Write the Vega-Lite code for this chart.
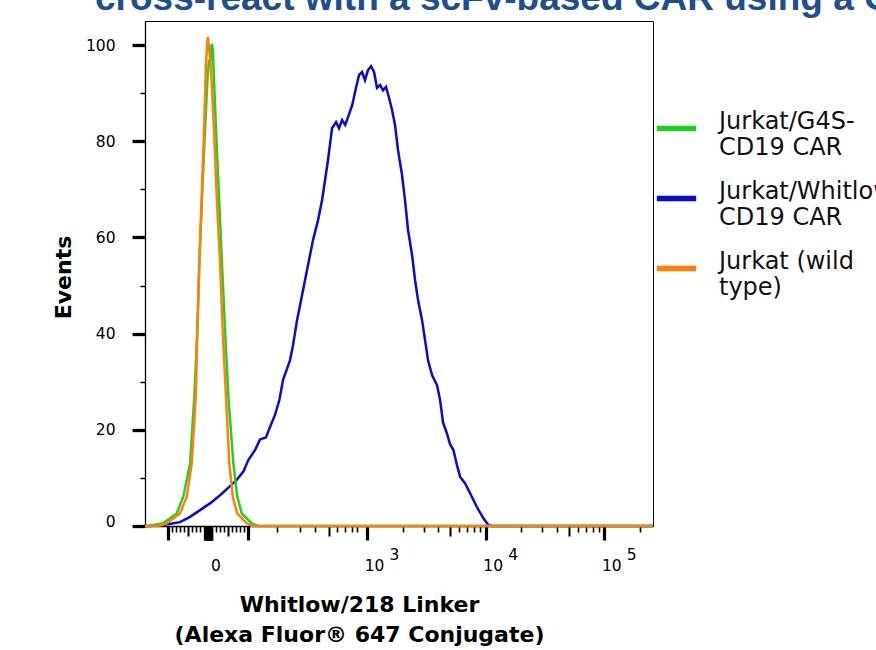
{
  "$schema": "https://vega.github.io/schema/vega-lite/v6.json",
  "width": 508,
  "height": 505,
  "autosize": "none",
  "padding": {"left": 145, "top": 21, "right": 223, "bottom": 124},
  "background": "white",
  "title": {
    "text": "cross-react with a scFv-based CAR using a G4S linker",
    "anchor": "start",
    "frame": "group",
    "orient": "top",
    "font": "Liberation Sans",
    "fontSize": 37,
    "fontWeight": "bold",
    "color": "#1F4E8C",
    "baseline": "alphabetic",
    "dx": -50,
    "offset": -26
  },
  "config": {
    "font": "DejaVu Sans",
    "view": {"stroke": "#000", "strokeWidth": 1}
  },
  "data": {
    "values": [
      {"s": "Jurkat/Whitlow-CD19 CAR", "x": 1.128, "y": 0},
      {"s": "Jurkat/Whitlow-CD19 CAR", "x": 1.170, "y": 0},
      {"s": "Jurkat/Whitlow-CD19 CAR", "x": 1.297, "y": 0.3},
      {"s": "Jurkat/Whitlow-CD19 CAR", "x": 1.356, "y": 0.5},
      {"s": "Jurkat/Whitlow-CD19 CAR", "x": 1.423, "y": 0.8},
      {"s": "Jurkat/Whitlow-CD19 CAR", "x": 1.508, "y": 1.9},
      {"s": "Jurkat/Whitlow-CD19 CAR", "x": 1.592, "y": 3.3},
      {"s": "Jurkat/Whitlow-CD19 CAR", "x": 1.676, "y": 4.7},
      {"s": "Jurkat/Whitlow-CD19 CAR", "x": 1.761, "y": 6.4},
      {"s": "Jurkat/Whitlow-CD19 CAR", "x": 1.845, "y": 8.3},
      {"s": "Jurkat/Whitlow-CD19 CAR", "x": 1.901, "y": 9.6},
      {"s": "Jurkat/Whitlow-CD19 CAR", "x": 1.957, "y": 11.3},
      {"s": "Jurkat/Whitlow-CD19 CAR", "x": 1.999, "y": 13.7},
      {"s": "Jurkat/Whitlow-CD19 CAR", "x": 2.056, "y": 15.8},
      {"s": "Jurkat/Whitlow-CD19 CAR", "x": 2.098, "y": 18.0},
      {"s": "Jurkat/Whitlow-CD19 CAR", "x": 2.148, "y": 18.4},
      {"s": "Jurkat/Whitlow-CD19 CAR", "x": 2.182, "y": 20.6},
      {"s": "Jurkat/Whitlow-CD19 CAR", "x": 2.224, "y": 23.1},
      {"s": "Jurkat/Whitlow-CD19 CAR", "x": 2.261, "y": 26.2},
      {"s": "Jurkat/Whitlow-CD19 CAR", "x": 2.292, "y": 30.4},
      {"s": "Jurkat/Whitlow-CD19 CAR", "x": 2.351, "y": 34.5},
      {"s": "Jurkat/Whitlow-CD19 CAR", "x": 2.376, "y": 37.6},
      {"s": "Jurkat/Whitlow-CD19 CAR", "x": 2.410, "y": 42.8},
      {"s": "Jurkat/Whitlow-CD19 CAR", "x": 2.444, "y": 47.0},
      {"s": "Jurkat/Whitlow-CD19 CAR", "x": 2.477, "y": 51.1},
      {"s": "Jurkat/Whitlow-CD19 CAR", "x": 2.511, "y": 55.3},
      {"s": "Jurkat/Whitlow-CD19 CAR", "x": 2.545, "y": 59.5},
      {"s": "Jurkat/Whitlow-CD19 CAR", "x": 2.587, "y": 63.6},
      {"s": "Jurkat/Whitlow-CD19 CAR", "x": 2.621, "y": 67.8},
      {"s": "Jurkat/Whitlow-CD19 CAR", "x": 2.646, "y": 71.9},
      {"s": "Jurkat/Whitlow-CD19 CAR", "x": 2.671, "y": 76.1},
      {"s": "Jurkat/Whitlow-CD19 CAR", "x": 2.705, "y": 82.7},
      {"s": "Jurkat/Whitlow-CD19 CAR", "x": 2.739, "y": 84.0},
      {"s": "Jurkat/Whitlow-CD19 CAR", "x": 2.764, "y": 82.7},
      {"s": "Jurkat/Whitlow-CD19 CAR", "x": 2.790, "y": 84.4},
      {"s": "Jurkat/Whitlow-CD19 CAR", "x": 2.816, "y": 83.4},
      {"s": "Jurkat/Whitlow-CD19 CAR", "x": 2.841, "y": 85.1},
      {"s": "Jurkat/Whitlow-CD19 CAR", "x": 2.875, "y": 87.5},
      {"s": "Jurkat/Whitlow-CD19 CAR", "x": 2.907, "y": 91.1},
      {"s": "Jurkat/Whitlow-CD19 CAR", "x": 2.933, "y": 93.8},
      {"s": "Jurkat/Whitlow-CD19 CAR", "x": 2.958, "y": 94.4},
      {"s": "Jurkat/Whitlow-CD19 CAR", "x": 2.983, "y": 92.7},
      {"s": "Jurkat/Whitlow-CD19 CAR", "x": 3.008, "y": 94.8},
      {"s": "Jurkat/Whitlow-CD19 CAR", "x": 3.034, "y": 95.6},
      {"s": "Jurkat/Whitlow-CD19 CAR", "x": 3.059, "y": 94.4},
      {"s": "Jurkat/Whitlow-CD19 CAR", "x": 3.084, "y": 91.1},
      {"s": "Jurkat/Whitlow-CD19 CAR", "x": 3.110, "y": 91.7},
      {"s": "Jurkat/Whitlow-CD19 CAR", "x": 3.135, "y": 90.6},
      {"s": "Jurkat/Whitlow-CD19 CAR", "x": 3.160, "y": 91.3},
      {"s": "Jurkat/Whitlow-CD19 CAR", "x": 3.186, "y": 89.0},
      {"s": "Jurkat/Whitlow-CD19 CAR", "x": 3.211, "y": 86.5},
      {"s": "Jurkat/Whitlow-CD19 CAR", "x": 3.236, "y": 83.4},
      {"s": "Jurkat/Whitlow-CD19 CAR", "x": 3.261, "y": 78.2},
      {"s": "Jurkat/Whitlow-CD19 CAR", "x": 3.295, "y": 73.0},
      {"s": "Jurkat/Whitlow-CD19 CAR", "x": 3.320, "y": 67.8},
      {"s": "Jurkat/Whitlow-CD19 CAR", "x": 3.346, "y": 61.5},
      {"s": "Jurkat/Whitlow-CD19 CAR", "x": 3.380, "y": 56.3},
      {"s": "Jurkat/Whitlow-CD19 CAR", "x": 3.405, "y": 51.1},
      {"s": "Jurkat/Whitlow-CD19 CAR", "x": 3.430, "y": 47.0},
      {"s": "Jurkat/Whitlow-CD19 CAR", "x": 3.464, "y": 42.8},
      {"s": "Jurkat/Whitlow-CD19 CAR", "x": 3.489, "y": 38.7},
      {"s": "Jurkat/Whitlow-CD19 CAR", "x": 3.514, "y": 34.5},
      {"s": "Jurkat/Whitlow-CD19 CAR", "x": 3.548, "y": 31.4},
      {"s": "Jurkat/Whitlow-CD19 CAR", "x": 3.590, "y": 29.3},
      {"s": "Jurkat/Whitlow-CD19 CAR", "x": 3.616, "y": 26.2},
      {"s": "Jurkat/Whitlow-CD19 CAR", "x": 3.641, "y": 21.5},
      {"s": "Jurkat/Whitlow-CD19 CAR", "x": 3.673, "y": 19.3},
      {"s": "Jurkat/Whitlow-CD19 CAR", "x": 3.700, "y": 17.0},
      {"s": "Jurkat/Whitlow-CD19 CAR", "x": 3.728, "y": 15.8},
      {"s": "Jurkat/Whitlow-CD19 CAR", "x": 3.760, "y": 12.5},
      {"s": "Jurkat/Whitlow-CD19 CAR", "x": 3.785, "y": 10.2},
      {"s": "Jurkat/Whitlow-CD19 CAR", "x": 3.826, "y": 8.9},
      {"s": "Jurkat/Whitlow-CD19 CAR", "x": 3.869, "y": 6.8},
      {"s": "Jurkat/Whitlow-CD19 CAR", "x": 3.925, "y": 4.0},
      {"s": "Jurkat/Whitlow-CD19 CAR", "x": 3.981, "y": 1.6},
      {"s": "Jurkat/Whitlow-CD19 CAR", "x": 4.023, "y": 0.2},
      {"s": "Jurkat/Whitlow-CD19 CAR", "x": 4.054, "y": 0},
      {"s": "Jurkat/Whitlow-CD19 CAR", "x": 5.411, "y": 0},
      {"s": "Jurkat/G4S-CD19 CAR", "x": 1.128, "y": 0},
      {"s": "Jurkat/G4S-CD19 CAR", "x": 1.153, "y": 0},
      {"s": "Jurkat/G4S-CD19 CAR", "x": 1.280, "y": 0.55},
      {"s": "Jurkat/G4S-CD19 CAR", "x": 1.395, "y": 2.6},
      {"s": "Jurkat/G4S-CD19 CAR", "x": 1.451, "y": 6.1},
      {"s": "Jurkat/G4S-CD19 CAR", "x": 1.508, "y": 13.0},
      {"s": "Jurkat/G4S-CD19 CAR", "x": 1.544, "y": 26.9},
      {"s": "Jurkat/G4S-CD19 CAR", "x": 1.569, "y": 40.7},
      {"s": "Jurkat/G4S-CD19 CAR", "x": 1.586, "y": 54.6},
      {"s": "Jurkat/G4S-CD19 CAR", "x": 1.609, "y": 68.5},
      {"s": "Jurkat/G4S-CD19 CAR", "x": 1.634, "y": 82.3},
      {"s": "Jurkat/G4S-CD19 CAR", "x": 1.655, "y": 93.0},
      {"s": "Jurkat/G4S-CD19 CAR", "x": 1.668, "y": 97.0},
      {"s": "Jurkat/G4S-CD19 CAR", "x": 1.678, "y": 96.0},
      {"s": "Jurkat/G4S-CD19 CAR", "x": 1.690, "y": 100.2},
      {"s": "Jurkat/G4S-CD19 CAR", "x": 1.700, "y": 99.0},
      {"s": "Jurkat/G4S-CD19 CAR", "x": 1.708, "y": 94.0},
      {"s": "Jurkat/G4S-CD19 CAR", "x": 1.727, "y": 82.3},
      {"s": "Jurkat/G4S-CD19 CAR", "x": 1.752, "y": 68.5},
      {"s": "Jurkat/G4S-CD19 CAR", "x": 1.777, "y": 54.6},
      {"s": "Jurkat/G4S-CD19 CAR", "x": 1.803, "y": 40.7},
      {"s": "Jurkat/G4S-CD19 CAR", "x": 1.831, "y": 26.9},
      {"s": "Jurkat/G4S-CD19 CAR", "x": 1.873, "y": 13.0},
      {"s": "Jurkat/G4S-CD19 CAR", "x": 1.906, "y": 6.1},
      {"s": "Jurkat/G4S-CD19 CAR", "x": 1.944, "y": 2.6},
      {"s": "Jurkat/G4S-CD19 CAR", "x": 2.028, "y": 0.55},
      {"s": "Jurkat/G4S-CD19 CAR", "x": 2.081, "y": 0},
      {"s": "Jurkat/G4S-CD19 CAR", "x": 5.411, "y": 0},
      {"s": "Jurkat (wild type)", "x": 1.128, "y": 0},
      {"s": "Jurkat (wild type)", "x": 1.170, "y": 0},
      {"s": "Jurkat (wild type)", "x": 1.255, "y": 0.1},
      {"s": "Jurkat (wild type)", "x": 1.311, "y": 0.55},
      {"s": "Jurkat (wild type)", "x": 1.423, "y": 2.6},
      {"s": "Jurkat (wild type)", "x": 1.480, "y": 6.1},
      {"s": "Jurkat (wild type)", "x": 1.522, "y": 13.0},
      {"s": "Jurkat (wild type)", "x": 1.556, "y": 26.9},
      {"s": "Jurkat (wild type)", "x": 1.569, "y": 40.7},
      {"s": "Jurkat (wild type)", "x": 1.586, "y": 54.6},
      {"s": "Jurkat (wild type)", "x": 1.606, "y": 68.5},
      {"s": "Jurkat (wild type)", "x": 1.626, "y": 82.3},
      {"s": "Jurkat (wild type)", "x": 1.642, "y": 96.2},
      {"s": "Jurkat (wild type)", "x": 1.657, "y": 101.7},
      {"s": "Jurkat (wild type)", "x": 1.682, "y": 96.2},
      {"s": "Jurkat (wild type)", "x": 1.710, "y": 82.3},
      {"s": "Jurkat (wild type)", "x": 1.733, "y": 68.5},
      {"s": "Jurkat (wild type)", "x": 1.761, "y": 54.6},
      {"s": "Jurkat (wild type)", "x": 1.783, "y": 40.7},
      {"s": "Jurkat (wild type)", "x": 1.811, "y": 26.9},
      {"s": "Jurkat (wild type)", "x": 1.839, "y": 13.0},
      {"s": "Jurkat (wild type)", "x": 1.868, "y": 6.1},
      {"s": "Jurkat (wild type)", "x": 1.906, "y": 2.6},
      {"s": "Jurkat (wild type)", "x": 1.986, "y": 0.55},
      {"s": "Jurkat (wild type)", "x": 2.030, "y": 0},
      {"s": "Jurkat (wild type)", "x": 5.411, "y": 0}
    ]
  },
  "resolve": {"scale": {"x": "shared", "y": "shared", "color": "shared"}, "axis": {"x": "independent"}},
  "layer": [
    {
      "transform": [{"filter": "datum.s == 'Jurkat/Whitlow-CD19 CAR'"}],
      "mark": {"type": "line", "strokeWidth": 2.5},
      "encoding": {
        "x": {
          "field": "x", "type": "quantitative",
          "scale": {"domain": [1.128, 5.411], "nice": false, "zero": false},
          "axis": {
            "orient": "bottom",
            "values": [1.3246, 1.3584, 1.3921, 1.4259, 1.4597, 1.4935, 1.5272, 1.561, 1.5948, 1.6285, 1.6319, 1.6353, 1.6387, 1.642, 1.6454, 1.6488, 1.6522, 1.6555, 1.6589, 1.6623, 1.6657, 1.6691, 1.6724, 1.6758, 1.6792, 1.6826, 1.6859, 1.6893, 1.6927, 1.6961, 1.7298, 1.7636, 1.7974, 1.8312, 1.8649, 1.8987, 1.9325, 1.9662, 2, 2.244, 2.435, 2.562, 2.682, 2.75, 2.815, 2.871, 2.918, 3, 3.301, 3.4771, 3.6021, 3.699, 3.7782, 3.8451, 3.9031, 3.9542, 4, 4.301, 4.4771, 4.6021, 4.699, 4.7782, 4.8451, 4.9031, 4.9542, 5, 5.301],
            "title": ["Whitlow/218 Linker", "(Alexa Fluor® 647 Conjugate)"],
            "titleFont": "DejaVu Sans",
            "titleFontSize": 22,
            "titleFontWeight": "bold",
            "titleColor": "#000",
            "titleAlign": "center",
            "titleBaseline": "alphabetic",
            "titleX": 214,
            "titleY": 85,
            "titleLineHeight": 30,
            "grid": false,
            "domainColor": "#000",
            "domainWidth": 1.5,
            "tickColor": "#000",
            "tickSize": {"condition": [
              {"test": "datum.value == 1.3246 || datum.value == 1.6623 || datum.value == 2 || datum.value == 3 || datum.value == 4 || datum.value == 5", "value": 14},
              {"test": "datum.value > 1.628 && datum.value < 1.697", "value": 14},
              {"test": "datum.value == 1.4935 || datum.value == 1.8312 || datum.value == 2.682 || datum.value == 3.699 || datum.value == 4.699", "value": 10}
            ], "value": 6},
            "tickWidth": {"condition": [
              {"test": "datum.value == 1.3246 || datum.value == 1.6623 || datum.value == 2 || datum.value == 3 || datum.value == 4 || datum.value == 5", "value": 3.2},
              {"test": "datum.value > 1.628 && datum.value < 1.697", "value": 1.3},
              {"test": "datum.value == 1.4935 || datum.value == 1.8312 || datum.value == 2.682 || datum.value == 3.699 || datum.value == 4.699", "value": 2}
            ], "value": 1.6},
            "labelExpr": "datum.value == 1.6623 ? '0' : (datum.value == 3 || datum.value == 4 || datum.value == 5) ? '10' : ''",
            "labelFont": "DejaVu Sans",
            "labelFontSize": 15.5,
            "labelColor": "#000",
            "labelBaseline": "middle",
            "labelPadding": 25,
            "labelOffset": 7,
            "labelOverlap": false,
            "labelFlush": false,
            "labelBound": false
          }
        },
        "y": {
          "field": "y", "type": "quantitative",
          "scale": {"domain": [0, 105], "nice": false, "zero": true},
          "axis": {
            "values": [0, 5, 10, 15, 20, 25, 30, 35, 40, 45, 50, 55, 60, 65, 70, 75, 80, 85, 90, 95, 100],
            "title": "Events",
            "titleFont": "DejaVu Sans",
            "titleFontSize": 22,
            "titleFontWeight": "bold",
            "titleColor": "#000",
            "titleAngle": 270,
            "titleAlign": "center",
            "titleBaseline": "alphabetic",
            "titleX": -75,
            "titleY": 256,
            "grid": false,
            "domainColor": "#000",
            "domainWidth": 1.3,
            "tickColor": "#000",
            "tickSize": {"condition": {"test": "datum.value % 20 == 0", "value": 13}, "value": 5},
            "tickWidth": {"condition": {"test": "datum.value % 20 == 0", "value": 3.3}, "value": 1.5},
            "labelExpr": "datum.value % 20 == 0 ? datum.label : ''",
            "labelFont": "DejaVu Sans",
            "labelFontSize": 15.5,
            "labelColor": "#000",
            "labelPadding": 17,
            "labelOffset": {"condition": {"test": "datum.value == 0", "value": -5}, "value": 0},
            "labelOverlap": false,
            "labelBound": false
          }
        },
        "color": {
          "field": "s", "type": "nominal",
          "scale": {
            "domain": ["Jurkat/G4S-CD19 CAR", "Jurkat/Whitlow-CD19 CAR", "Jurkat (wild type)"],
            "range": ["#22CF22", "#0B0BC9", "#FF7F0A"]
          },
          "legend": {
            "orient": "none",
            "legendX": 509,
            "legendY": 85,
            "title": null,
            "padding": 0,
            "symbolType": "stroke",
            "symbolSize": 1550,
            "symbolStrokeWidth": 5.5,
            "labelFont": "DejaVu Sans",
            "labelFontSize": 24,
            "labelLineHeight": 30,
            "labelColor": "#111",
            "labelBaseline": "alphabetic",
            "labelOffset": 20,
            "labelLimit": 500,
            "rowPadding": 16,
            "labelExpr": "datum.label == 'Jurkat/G4S-CD19 CAR' ? ['Jurkat/G4S-', 'CD19 CAR'] : datum.label == 'Jurkat/Whitlow-CD19 CAR' ? ['Jurkat/Whitlow-', 'CD19 CAR'] : ['Jurkat (wild', 'type)']"
          }
        }
      }
    },
    {
      "transform": [{"filter": "datum.s == 'Jurkat/G4S-CD19 CAR'"}],
      "mark": {"type": "line", "strokeWidth": 2.5},
      "encoding": {
        "x": {"field": "x", "type": "quantitative", "axis": null},
        "y": {"field": "y", "type": "quantitative"},
        "color": {"field": "s", "type": "nominal"}
      }
    },
    {
      "transform": [{"filter": "datum.s == 'Jurkat (wild type)'"}],
      "mark": {"type": "line", "strokeWidth": 2.5},
      "encoding": {
        "x": {"field": "x", "type": "quantitative", "axis": null},
        "y": {"field": "y", "type": "quantitative"},
        "color": {"field": "s", "type": "nominal"}
      }
    },
    {
      "transform": [{"filter": "datum.s == 'Jurkat (wild type)'"}],
      "mark": {"type": "point", "opacity": 0},
      "encoding": {
        "x": {
          "field": "x", "type": "quantitative",
          "axis": {
            "orient": "bottom",
            "values": [3, 4, 5],
            "title": null,
            "ticks": false,
            "tickSize": 0,
            "domain": false,
            "grid": false,
            "labelFont": "DejaVu Sans",
            "labelFontSize": 15.5,
            "labelColor": "#000",
            "labelBaseline": "middle",
            "labelPadding": 28,
            "labelOffset": 27,
            "labelOverlap": false,
            "labelFlush": false,
            "labelBound": false
          }
        }
      }
    }
  ]
}
